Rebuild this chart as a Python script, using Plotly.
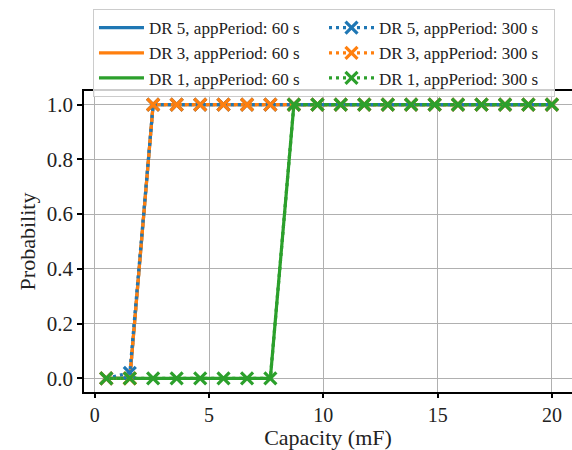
import plotly.graph_objects as go

capacity = [0.5, 1.53, 2.55, 3.58, 4.61, 5.63, 6.66, 7.68, 8.71, 9.74,
            10.76, 11.79, 12.82, 13.84, 14.87, 15.89, 16.92, 17.95, 18.97, 20.0]

dr5_60 = [0, 0] + [1] * 18
dr3_60 = [0, 0] + [1] * 18
dr1_60 = [0] * 8 + [1] * 12
dr5_300 = [0, 0.02] + [1] * 18
dr3_300 = [0, 0] + [1] * 18
dr1_300 = [0] * 8 + [1] * 12

BLUE, ORANGE, GREEN = "#1f77b4", "#ff7f0e", "#2ca02c"
FONT = "Liberation Serif"
TXT = "#222222"

def solid(y, color, name, rank):
    return go.Scatter(x=capacity, y=y, mode="lines", name=name, legendrank=rank,
                      line=dict(color=color, width=3.2))

def dotted(y, color, name, rank, show=True, mode="lines+markers"):
    return go.Scatter(x=capacity, y=y, mode=mode, name=name, legendrank=rank,
                      showlegend=show,
                      line=dict(color=color, width=3.2, dash="3px,4px"),
                      marker=dict(symbol="x-thin", size=12,
                                  line=dict(color=color, width=3.2), color=color))

fig = go.Figure()
fig.add_trace(solid(dr5_60, BLUE, "DR 5, appPeriod: 60 s", 1))
fig.add_trace(solid(dr3_60, ORANGE, "DR 3, appPeriod: 60 s", 3))
fig.add_trace(solid(dr1_60, GREEN, "DR 1, appPeriod: 60 s", 5))
fig.add_trace(dotted(dr3_300, ORANGE, "DR 3, appPeriod: 300 s", 4))
fig.add_trace(dotted(dr5_300, BLUE, "DR 5, appPeriod: 300 s", 2))
fig.add_trace(dotted(dr3_300, ORANGE, "DR 3 markers", 10, show=False, mode="markers"))
fig.add_trace(dotted(dr1_300, GREEN, "DR 1, appPeriod: 300 s", 6))

axis_common = dict(
    showgrid=True, gridcolor="#b0b0b0", gridwidth=1,
    showline=True, linecolor="black", linewidth=1.5,
    ticks="outside", tickwidth=1.5, tickcolor="black",
    zeroline=False,
)

fig.update_layout(
    width=572, height=450,
    margin=dict(l=84, r=0, t=91, b=58, autoexpand=False),
    plot_bgcolor="white", paper_bgcolor="white",
    font=dict(family=FONT, color=TXT),
    xaxis=dict(range=[-0.475, 20.88], tickvals=[0, 5, 10, 15, 20],
               mirror=True, ticklen=4,
               tickfont=dict(family=FONT, size=20, color=TXT),
               title=dict(text="Capacity (mF)", font=dict(family=FONT, size=22, color=TXT),
                          standoff=8),
               **axis_common),
    yaxis=dict(range=[-0.05, 1.05], tickvals=[0, 0.2, 0.4, 0.6, 0.8, 1.0],
               tickformat=".1f", ticklen=5,
               tickfont=dict(family=FONT, size=21, color=TXT),
               title=dict(text="Probability", font=dict(family=FONT, size=22, color=TXT),
                          standoff=5),
               **axis_common),
    legend=dict(orientation="h", x=0.0184, y=1.272, xanchor="left", yanchor="top",
                font=dict(family=FONT, size=17, color=TXT),
                bgcolor="rgba(255,255,255,0.8)", bordercolor="#cccccc", borderwidth=1,
                itemwidth=45, entrywidth=170, entrywidthmode="pixels",
                traceorder="normal"),
)

fig.write_html("out.html",
               config={"displayModeBar": False},
               post_script="document.body.style.margin='0';document.body.style.overflow='hidden';")
